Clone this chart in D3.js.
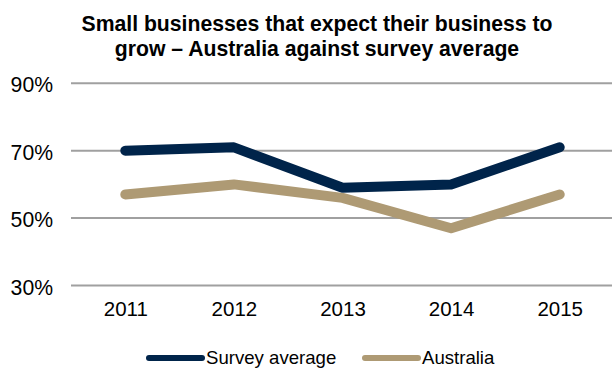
<!DOCTYPE html>
<html><head><meta charset="utf-8">
<script src="https://cdn.jsdelivr.net/npm/d3@7"></script>
<style>body{margin:0;background:#fff}svg{display:block}text{font-family:"Liberation Sans",Arial,sans-serif}</style>
</head><body>
<script>
const years = ["2011","2012","2013","2014","2015"];
const surveyAverage = [70, 71, 59, 60, 71];
const australia = [57, 60, 56, 47, 57];
const yTicks = [30, 50, 70, 90];
const titleLines = ["Small businesses that expect their business to", "grow \u2013 Australia against survey average"];
const seriesNames = ["Survey average", "Australia"];
const colors = ["#00244a", "#ae9a74"];

const W = 612, H = 369;
const FONT = "Liberation Sans, Arial, sans-serif";
const svg = d3.select("body").append("svg").attr("width", W).attr("height", H);

svg.selectAll("text.title").data(titleLines).enter().append("text")
  .attr("x", 317).attr("y", (d,i) => 31 + i*25)
  .attr("text-anchor", "middle").attr("font-weight", "bold").attr("font-size", 21.2)
  .attr("fill", "#000").text(d => d);

const x = d3.scalePoint().domain(years).range([71, 614]).padding(0.5);
const y = d3.scaleLinear().domain([30, 90]).range([285.5, 83.3]);

const grid = svg.append("g");
grid.selectAll("line").data(yTicks).enter().append("line")
  .attr("x1", 71).attr("x2", 612)
  .attr("y1", d => y(d)).attr("y2", d => y(d))
  .attr("stroke", "#a0a0a0").attr("stroke-width", 2);

const yAxis = d3.axisLeft(y).tickValues(yTicks).tickFormat(d => d + "%").tickSize(0).tickPadding(0);
const ya = svg.append("g").attr("transform", "translate(53,1)").call(yAxis);
ya.select(".domain").remove();
ya.selectAll("text").attr("font-size", 21.2).attr("fill", "#000").attr("font-family", FONT).attr("dy", "0.36em");

const xAxis = d3.axisBottom(x).tickSize(0).tickPadding(0);
const xa = svg.append("g").attr("transform", "translate(0,316)").call(xAxis);
xa.select(".domain").remove();
xa.selectAll("text").attr("font-size", 20.5).attr("fill", "#000").attr("font-family", FONT).attr("dy", "0");

const line = d3.line().x((d,i) => x(years[i])).y(d => y(d));
[surveyAverage, australia].forEach((s, k) => {
  svg.append("path").datum(s).attr("d", line).attr("fill", "none")
    .attr("stroke", colors[k]).attr("stroke-width", 10)
    .attr("stroke-linecap", "round").attr("stroke-linejoin", "round");
});

const legendX = [149, 365];
const lg = svg.append("g");
seriesNames.forEach((n, k) => {
  lg.append("line").attr("x1", legendX[k]).attr("x2", legendX[k] + 53)
    .attr("y1", 358).attr("y2", 358).attr("stroke", colors[k]).attr("stroke-width", 6).attr("stroke-linecap", "round");
  lg.append("text").attr("x", legendX[k] + 57).attr("y", 364).attr("font-size", 18.6).attr("fill", "#000").text(n);
});
</script>
</body></html>
